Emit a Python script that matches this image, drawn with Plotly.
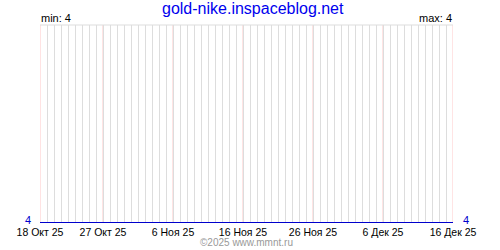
import plotly.graph_objects as go
import pandas as pd

dates = pd.date_range("2025-10-18", "2025-12-16", freq="D")
values = [4] * len(dates)
tick_dates = ["2025-10-18", "2025-10-27", "2025-11-06", "2025-11-16", "2025-11-26", "2025-12-06", "2025-12-16"]
tick_labels = ["18 Окт 25", "27 Окт 25", "6 Ноя 25", "16 Ноя 25", "26 Ноя 25", "6 Дек 25", "16 Дек 25"]
title_text = "gold-nike.inspaceblog.net"
min_val = min(values)
max_val = max(values)

font = "Liberation Sans, Arial, sans-serif"

fig = go.Figure()
fig.add_trace(go.Scatter(x=dates, y=values, mode="lines",
                         line=dict(color="#0000CC", width=2), cliponaxis=False,
                         hoverinfo="skip"))

fig.update_layout(
    width=500, height=250,
    margin=dict(l=40, r=47, t=25, b=25),
    paper_bgcolor="white", plot_bgcolor="white",
    showlegend=False,
    font=dict(family=font, size=11, color="black"),
    xaxis=dict(
        type="date",
        range=[dates[0], dates[-1]],
        tickvals=tick_dates, ticktext=tick_labels,
        showgrid=False,
        minor=dict(dtick=86400000, showgrid=True, gridcolor="#DDDDDD", gridwidth=1),
        ticks="", ticklen=0, showline=False, zeroline=False,
        tickfont=dict(family=font, size=10.5, color="black"),
        ticklabelstandoff=1,
    ),
    yaxis=dict(
        range=[min_val, min_val + 1],
        showticklabels=False,
        showgrid=False, zeroline=False, showline=False,
        ticks="",
    ),
)

for d in tick_dates:
    fig.add_shape(type="line", xref="x", yref="paper", x0=d, x1=d, y0=0, y1=1,
                  line=dict(color="#FFC8C8", width=1), layer="between")

fig.add_shape(type="line", xref="paper", yref="paper", x0=0, x1=1, y0=1, y1=1,
              line=dict(color="#DDDDDD", width=1), layer="between")

fig.update_layout(annotations=[
    dict(text=title_text, x=0.5, y=1.0, xref="paper", yref="paper", xanchor="center",
         yanchor="middle", yshift=17, xshift=6, showarrow=False,
         font=dict(family=font, size=16, color="#0000EE")),
    dict(text=f"min: {min_val}", x=0, y=1.0, xref="paper", yref="paper", xanchor="left",
         yanchor="bottom", xshift=-1, yshift=-1, showarrow=False,
         font=dict(family=font, size=11, color="black")),
    dict(text=f"max: {max_val}", x=1, y=1.0, xref="paper", yref="paper", xanchor="right",
         yanchor="bottom", xshift=1, yshift=-1, showarrow=False,
         font=dict(family=font, size=11, color="black")),
    dict(text=str(values[0]), x=0, y=values[0], xref="paper", yref="y", xanchor="right",
         yanchor="middle", xshift=-7, yshift=3, showarrow=False,
         font=dict(family=font, size=11, color="#0000CC")),
    dict(text=str(values[-1]), x=1, y=values[-1], xref="paper", yref="y", xanchor="left",
         yanchor="middle", xshift=8, yshift=3, showarrow=False,
         font=dict(family=font, size=11, color="#0000CC")),
    dict(text="©2025 www.mmnt.ru", x=0.5, y=0, xref="paper", yref="paper",
         xanchor="center", yanchor="middle", yshift=-19, showarrow=False,
         font=dict(family=font, size=10, color="#999999")),
])

fig.write_html("out.html")
